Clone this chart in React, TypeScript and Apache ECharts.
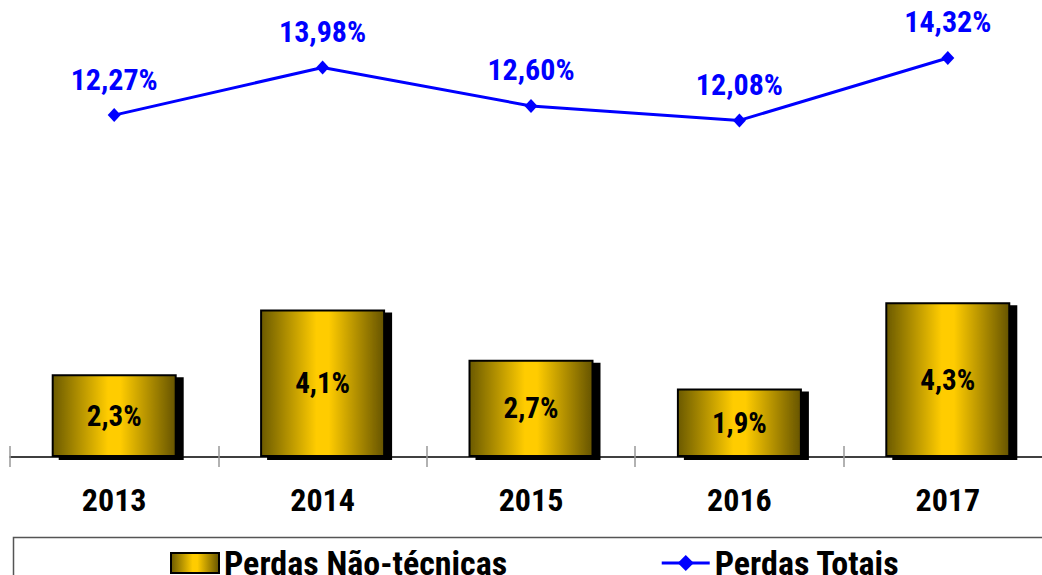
import React, { useEffect, useRef } from "react";
import * as echarts from "echarts";

const categories = ["2013", "2014", "2015", "2016", "2017"];
const perdasNaoTecnicas = [2.3, 4.1, 2.7, 1.9, 4.3];
const perdasTotais = [12.27, 13.98, 12.6, 12.08, 14.32];

const FONT = "'Roboto Condensed', 'Liberation Sans', sans-serif";

const fmt = (v: number, d: number) => v.toFixed(d).replace(".", ",") + "%";

export default function App() {
  const ref = useRef<HTMLDivElement>(null);
  useEffect(() => {
    const chart = echarts.init(ref.current!, null, { renderer: "svg" });
    const gold = new echarts.graphic.LinearGradient(0, 0, 1, 0, [
      { offset: 0, color: "#6b5a00" },
      { offset: 0.45, color: "#ffcc00" },
      { offset: 0.55, color: "#ffcc00" },
      { offset: 1, color: "#665400" },
    ]);
    chart.setOption({
      animation: false,
      backgroundColor: "#ffffff",
      textStyle: { fontFamily: FONT },
      grid: { left: 10, right: 0, top: 7, bottom: 118, containLabel: false },
      legend: {
        left: 170,
        top: 546,
        itemWidth: 48,
        itemHeight: 20,
        itemGap: 153,
        padding: 0,
        textStyle: { fontFamily: FONT, fontWeight: "bold", fontSize: 34, color: "#000" },
        data: [
          { name: "Perdas Não-técnicas", icon: "rect" },
          { name: "Perdas Totais", lineStyle: { width: 3, color: "#0000ff" }, itemStyle: { color: "#0000ff" } },
        ],
      },
      graphic: [
        {
          type: "rect",
          shape: { x: 13.5, y: 537.5, width: 1100, height: 100 },
          style: { fill: "none", stroke: "#555", lineWidth: 1.5 },
          silent: true,
        },
      ],
      xAxis: [
        {
          type: "category",
          data: categories,
          position: "bottom",
          axisLine: { show: true, lineStyle: { color: "#000", width: 1.5 } },
          axisTick: { show: true, length: 10, lineStyle: { color: "#999", width: 1.5 } },
          axisLabel: { fontFamily: FONT, fontWeight: "bold", fontSize: 32, color: "#000", margin: 27 },
        },
        {
          type: "category",
          data: categories,
          position: "bottom",
          axisLine: { show: false },
          axisTick: { show: true, inside: true, length: 11, lineStyle: { color: "#999", width: 1.5 } },
          axisLabel: { show: false },
        },
      ],
      yAxis: [
        { type: "value", min: 0, max: 12.5, show: false, splitLine: { show: false } },
        { type: "value", min: 0, max: 16.15, show: false, splitLine: { show: false } },
      ],
      series: [
        {
          name: "Perdas Não-técnicas",
          type: "bar",
          data: perdasNaoTecnicas,
          xAxisIndex: 0,
          yAxisIndex: 0,
          barWidth: 125,
          itemStyle: {
            color: gold,
            borderColor: "#000",
            borderWidth: 2,
            shadowColor: "#000",
            shadowBlur: 0,
            shadowOffsetX: 7,
            shadowOffsetY: 3,
          },
          label: {
            show: true,
            position: "inside",
            fontFamily: FONT,
            fontWeight: "bold",
            fontSize: 29,
            color: "#000",
            formatter: (p: any) => fmt(p.value, 1),
          },
        },
        {
          name: "Perdas Totais",
          type: "line",
          data: perdasTotais,
          xAxisIndex: 0,
          yAxisIndex: 1,
          symbol: "diamond",
          symbolSize: [13, 14],
          lineStyle: { color: "#0000ff", width: 3 },
          itemStyle: { color: "#0000ff" },
          label: {
            show: true,
            position: "top",
            distance: 14,
            fontFamily: FONT,
            fontWeight: "bold",
            fontSize: 30,
            color: "#0000ff",
            formatter: (p: any) => fmt(p.value, 2),
          },
        },
      ],
    });
    return () => chart.dispose();
  }, []);
  return (
    <div style={{ position: "fixed", left: 0, top: 0, width: 1042, height: 575, overflow: "hidden" }}>
      <div
        ref={ref}
        style={{ position: "absolute", left: 0, top: 0, width: 1052, height: 575 }}
      />
    </div>
  );
}
